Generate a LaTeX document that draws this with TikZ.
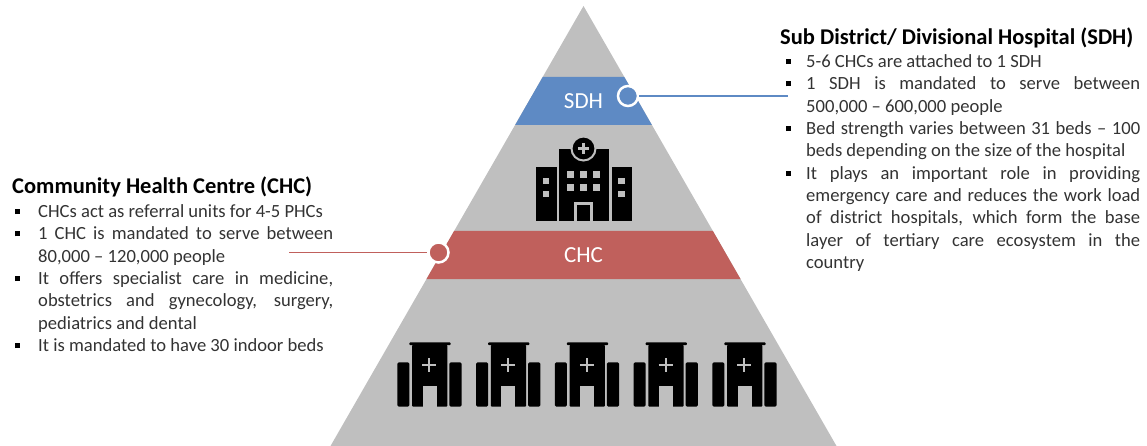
\documentclass[tikz,border=0pt]{standalone}
\usepackage{fontspec}
\setmainfont{Carlito}
\usepackage{enumitem}
\usepackage{tikz}
\usetikzlibrary{positioning}

\definecolor{pyrgrey}{HTML}{BFBFBF}
\definecolor{sdhblue}{HTML}{5E8AC4}
\definecolor{chcred}{HTML}{C0605C}
\definecolor{bodygrey}{HTML}{333333}

\hyphenpenalty=10000
\exhyphenpenalty=10000
\newcommand{\sqbul}{\textcolor{black}{\rule[3.5pt]{5pt}{5pt}}}

\tikzset{
  clinic/.pic={
    \fill[rounded corners=1pt] (12,0) rectangle (53.4,2.9);
    \fill[rounded corners=1pt] (14.7,2.5) rectangle (50,64.4);
    \fill[pyrgrey] (25.4,43.4) rectangle (39.4,64.6);
    \draw[pyrgrey,line width=2pt] (25,22.7) -- (39,22.7) (32,15.7) -- (32,29.7);
    \fill[rounded corners=1.5pt] (0,20) rectangle (12,64.4);
    \fill[rounded corners=1.5pt] (52,20) rectangle (64.4,64.4);
  }
}

\begin{document}
\begin{tikzpicture}[x=1pt,y=-1pt,
  band label/.style={text=white,font=\fontsize{23}{27}\selectfont,inner sep=0pt},
  head/.style={font=\bfseries\fontsize{22.5}{27}\selectfont,text=black,inner sep=0pt,anchor=base west},
  bullets/.style={font=\fontsize{18.6}{22.3}\selectfont,text=bodygrey,inner sep=0pt,align=justify},
  dot/.style={circle,draw=white,line width=2.5pt,minimum size=20pt,inner sep=0pt}]

  \useasboundingbox (0,0) rectangle (1147,446);

  % pyramid and bands
  \fill[pyrgrey] (583.5,6) -- (836.5,446) -- (330.5,446) -- cycle;
  \fill[sdhblue] (542.7,77) -- (624.3,77) -- (651.9,125) -- (515.1,125) -- cycle;
  \fill[chcred] (454.1,231) -- (712.9,231) -- (740.5,279) -- (426.5,279) -- cycle;
  \node[band label] (sdh) at (583.5,101.5) {SDH};
  \node[band label] (chc) at (583.5,255) {CHC};

  % sub district hospital
  \fill (536,167) rectangle (556.7,221);
  \fill (559,149) rectangle (609,221);
  \fill (611.7,167) rectangle (631.7,221);
  \foreach \y in {177.7,191} {
    \fill[pyrgrey] (542.7,\y) rectangle ++(6.6,6);
    \fill[pyrgrey] (618.3,\y) rectangle ++(6.6,6);
  }
  \foreach \x in {567.3,580,593.3}
    \foreach \y in {171,184.3}
      \fill[pyrgrey] (\x,\y) rectangle ++(6.7,6.7);
  \fill[pyrgrey] (574.3,201.7) rectangle (593.3,221);
  \fill (577.3,205) rectangle (590.3,221);
  \draw[pyrgrey,line width=2pt,fill=black] (583.5,148.5) circle (12);
  \draw[pyrgrey,line width=2.5pt] (578,148.5) -- (589,148.5) (583.5,143) -- (583.5,154);

  % health centres
  \foreach \i in {0,...,4}
    \pic at (397.3+78.75*\i,342.3) {clinic};

  % SDH text
  \node[head] (sdhhead) at (780,45) {Sub District/ Divisional Hospital (SDH)};
  \node[bullets,text width=354pt,below right=0.4pt and 6pt of sdhhead.base west,anchor=base west] (sdhlist) {%
    \begin{itemize}[leftmargin=20pt,labelsep=15pt,itemsep=0pt,topsep=0pt,parsep=0pt,partopsep=0pt,label=\sqbul]
      \item 5-6 CHCs are attached to 1 SDH
      \item 1 SDH is mandated to serve between\linebreak 500,000 – 600,000 people
      \item Bed strength varies between 31 beds – 100\linebreak beds depending on the size of the hospital
      \item It plays an important role in providing\linebreak emergency care and reduces the work load\linebreak of district hospitals, which form the base\linebreak layer of tertiary care ecosystem in the\linebreak country
    \end{itemize}};

  % CHC text
  \node[head] (chchead) at (12,193.3) {Community Health Centre (CHC)};
  \node[bullets,text width=318pt,below right=2.1pt and 3pt of chchead.base west,anchor=base west] (chclist) {%
    \begin{itemize}[leftmargin=23pt,labelsep=18pt,itemsep=0pt,topsep=0pt,parsep=0pt,partopsep=0pt,label=\sqbul]
      \item CHCs act as referral units for 4-5 PHCs
      \item 1 CHC is mandated to serve between\linebreak 80,000 – 120,000 people
      \item It offers specialist care in medicine,\linebreak obstetrics and gynecology, surgery,\linebreak pediatrics and dental
      \item It is mandated to have 30 indoor beds
    \end{itemize}};

  % connectors
  \node[dot,fill=sdhblue] (sdhdot) at (628,96) {};
  \node[dot,fill=chcred] (chcdot) at (438.5,252.5) {};
  \coordinate (sdhend) at (788,96);
  \coordinate (chcend) at (289,252.5);
  \draw[sdhblue,line width=1.2pt] (sdhdot) -- (sdhend);
  \draw[chcred,line width=1.2pt] (chcend) -- (chcdot);
\end{tikzpicture}
\end{document}
